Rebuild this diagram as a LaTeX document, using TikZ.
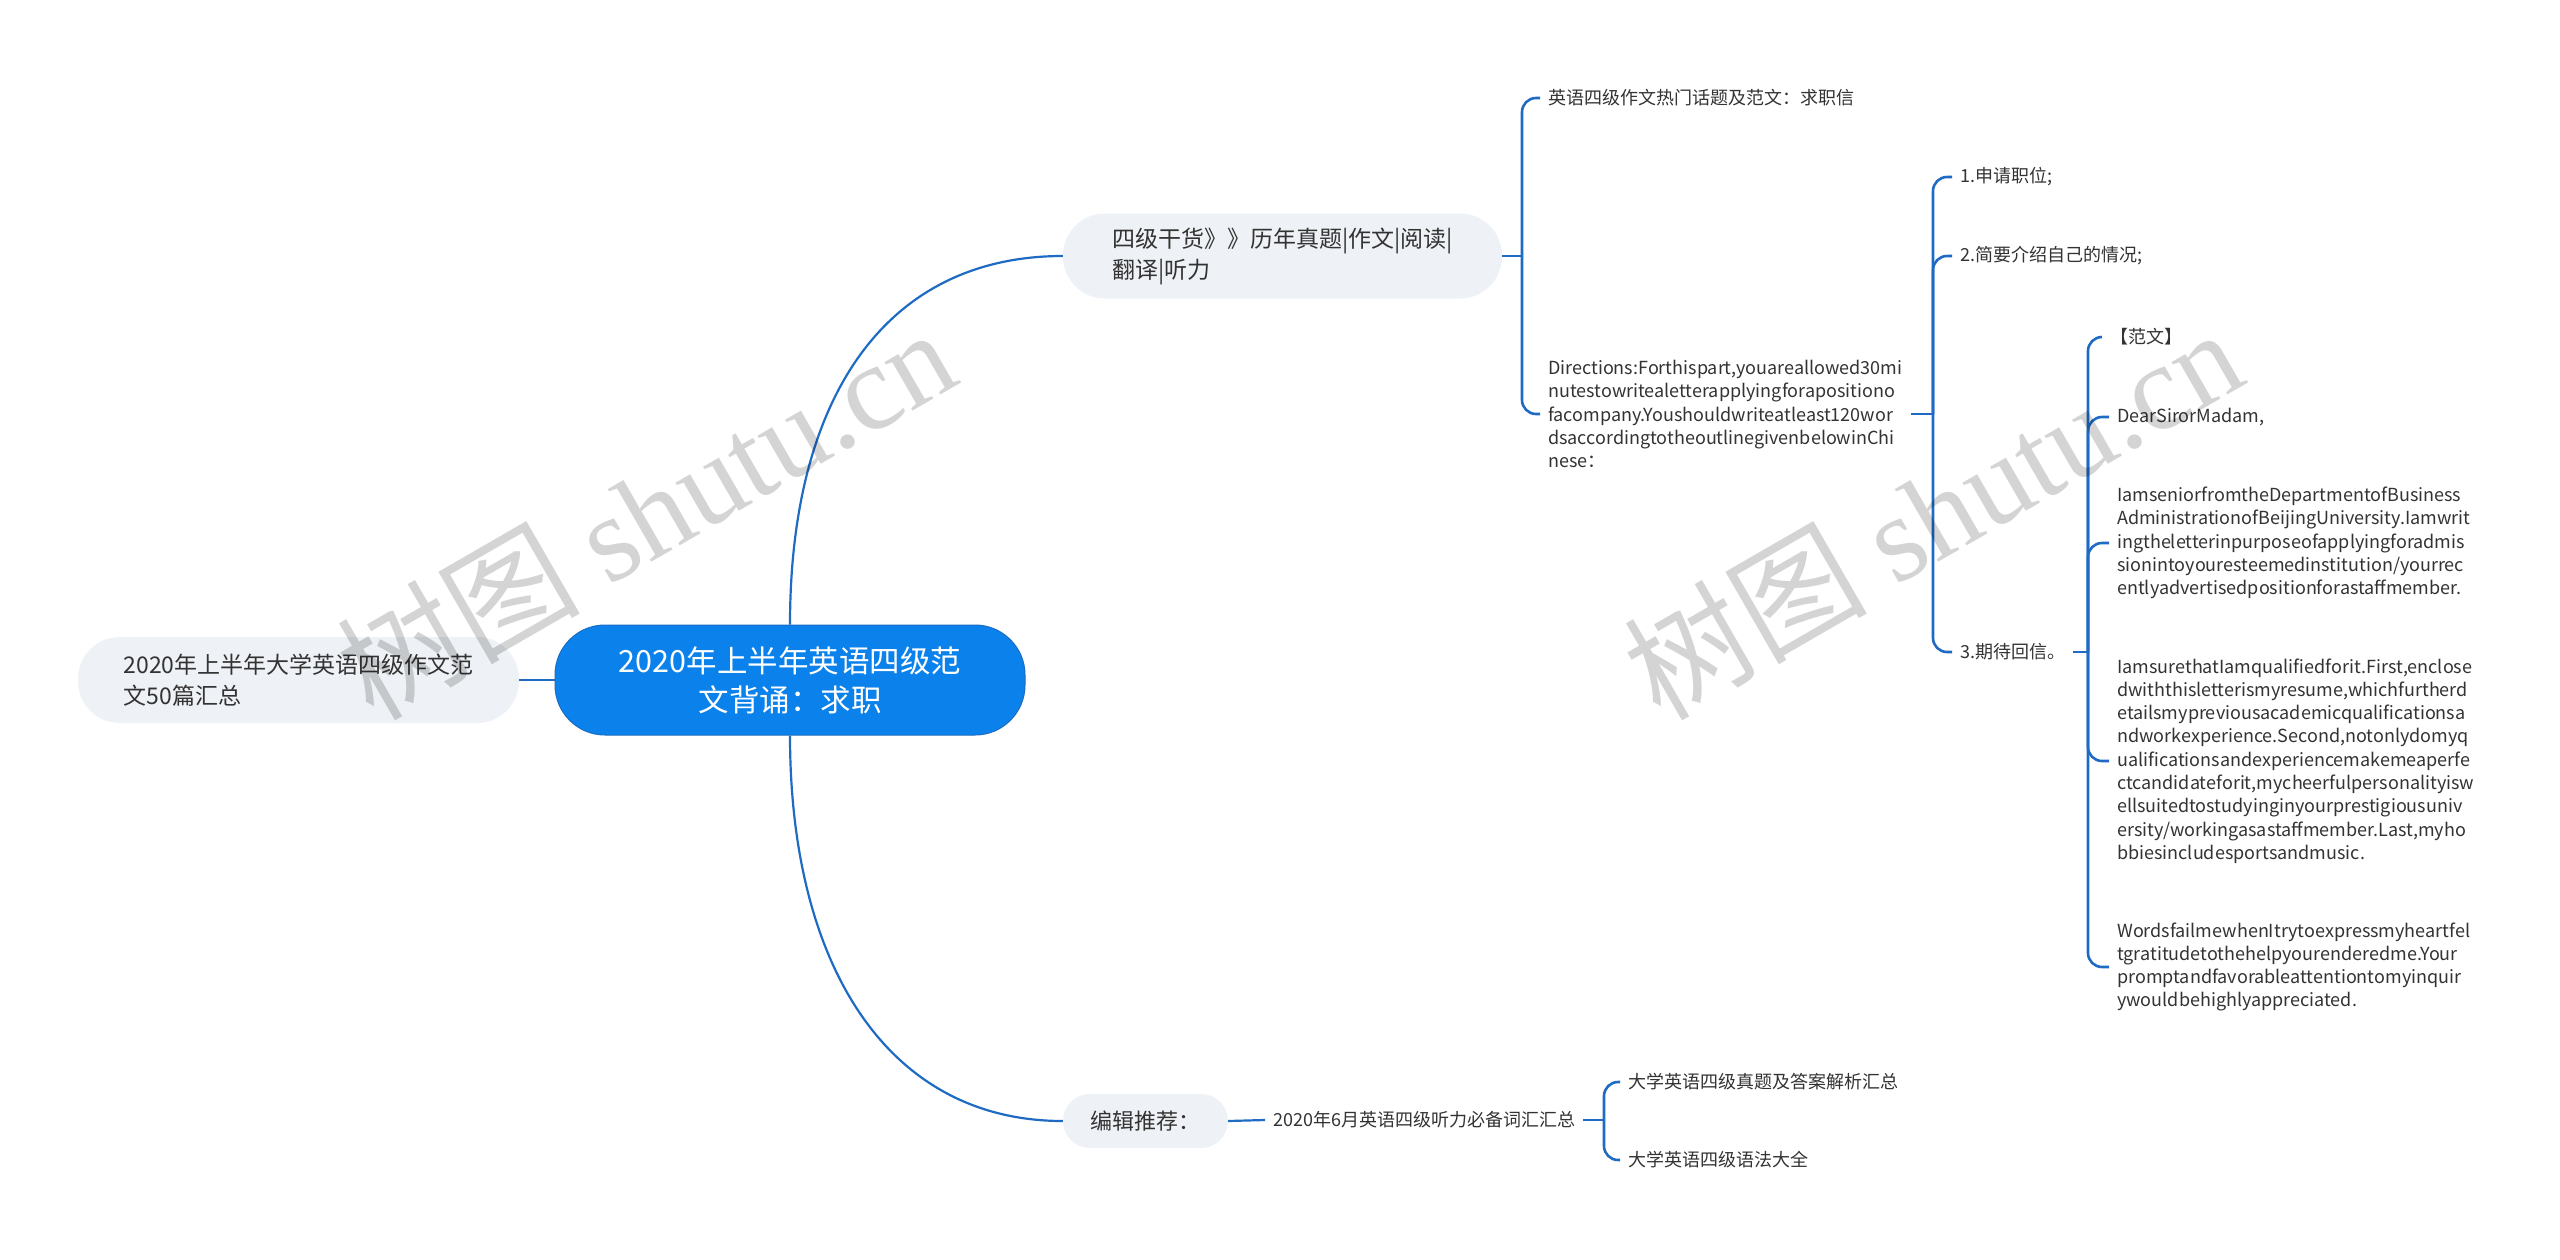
\documentclass[tikz,border=0pt]{standalone}
\usepackage{fontspec}
\setmainfont{Noto Sans CJK SC}
\newfontfamily\wmlatin{Liberation Serif}
\definecolor{lineblue}{HTML}{1F6BC4}
\definecolor{rootblue}{HTML}{0B82EB}
\definecolor{rootedge}{HTML}{1A6CC4}
\definecolor{subgray}{HTML}{EEF1F5}
\definecolor{txt}{HTML}{333333}
\begin{document}
\begin{tikzpicture}[x=1pt,y=-1pt,
 root/.style={fill=rootblue, draw=rootedge, line width=1pt, rounded corners=50pt, minimum width=470pt, minimum height=110pt, align=center, text=white, font=\fontsize{30.5}{39}\selectfont},
 pill/.style={fill=subgray, rounded corners=42pt, align=left, text=txt, font=\fontsize{23}{31}\selectfont},
 leaf/.style={anchor=west, inner xsep=8pt, inner ysep=0pt, align=left, text=txt, font=\fontsize{18}{23.3}\selectfont},
 link/.style={draw=lineblue, line width=2.2pt},
 brk/.style={draw=lineblue, line width=2.6pt, rounded corners=14pt},
 wmark/.style={text=black, text opacity=0.17, rotate=30, inner sep=0pt, font=\fontsize{122}{122}\selectfont}
]
\fill[white] (0,0) rectangle (2560,1259);
\useasboundingbox (0,0) rectangle (2560,1259);

% nodes
\node[root] (root) at (790,680) {2020年上半年英语四级范\\文背诵：求职};
\node[pill, minimum width=441pt, minimum height=86pt] (left) at (298.5,680) {2020年上半年大学英语四级作文范\\文50篇汇总};
\node[pill, minimum width=439pt, minimum height=85pt] (top) at (1282.5,256) {四级干货》》历年真题|作文|阅读|\\翻译|听力};
\node[pill, rounded corners=27pt, minimum width=165pt, minimum height=54pt, font=\fontsize{22}{28}\selectfont] (bj) at (1145.5,1121) {编辑推荐：};

\node[leaf] (hot) at (1540,98) {英语四级作文热门话题及范文：求职信};
\node[leaf] (dir) at (1540,414) {Directions:Forthispart,youareallowed30mi\\nutestowritealetterapplyingforapositiono\\facompany.Youshouldwriteatleast120wor\\dsaccordingtotheoutlinegivenbelowinChi\\nese：};
\node[leaf] (p1) at (1952,177) {1.申请职位;};
\node[leaf] (p2) at (1952,256) {2.简要介绍自己的情况;};
\node[leaf] (p3) at (1952,652) {3.期待回信。};
\node[leaf] (fw) at (2102,337) {【范文】};
\node[leaf] (dear) at (2109,417) {DearSirorMadam,};
\node[leaf] (para1) at (2109,543) {IamseniorfromtheDepartmentofBusiness\\AdministrationofBeijingUniversity.Iamwrit\\ingtheletterinpurposeofapplyingforadmis\\sionintoyouresteemedinstitution/yourrec\\entlyadvertisedpositionforastaffmember.};
\node[leaf] (para2) at (2109,761) {IamsurethatIamqualifiedforit.First,enclose\\dwiththisletterismyresume,whichfurtherd\\etailsmypreviousacademicqualificationsa\\ndworkexperience.Second,notonlydomyq\\ualificationsandexperiencemakemeaperfe\\ctcandidateforit,mycheerfulpersonalityisw\\ellsuitedtostudyinginyourprestigiousuniv\\ersity/workingasastaffmember.Last,myho\\bbiesincludesportsandmusic.};
\node[leaf] (para3) at (2109,967) {WordsfailmewhenItrytoexpressmyheartfel\\tgratitudetothehelpyourenderedme.Your\\promptandfavorableattentiontomyinquir\\ywouldbehighlyappreciated.};

\node[leaf] (cihui) at (1265,1120) {2020年6月英语四级听力必备词汇汇总};
\node[leaf] (zt) at (1620,1082) {大学英语四级真题及答案解析汇总};
\node[leaf] (yf) at (1620,1160) {大学英语四级语法大全};

% junctions
\coordinate (j1) at (1522,256);
\coordinate (j2) at (1933,414);
\coordinate (j3) at (2088,652);
\coordinate (j4) at (1604,1120);

% main connectors
\draw[link] (root.west) -- (left.east);
\draw[link] (root.north) .. controls +(0,-230) and +(-175,0) .. (top.west);
\draw[link] (root.south) .. controls +(0,230) and +(-175,0) .. (bj.west);
\draw[link] (bj.east) -- (cihui.west);

% brackets
\draw[brk] (top.east) -- (j1);
\draw[brk] (j1) |- (hot.west);
\draw[brk] (j1) |- (dir.west);

\draw[brk] (dir.east) -- (j2);
\draw[brk] (j2) |- (p1.west);
\draw[brk] (j2) |- (p2.west);
\draw[brk] (j2) |- (p3.west);

\draw[brk] (p3.east) -- (j3);
\draw[brk] (j3) |- (fw.west);
\draw[brk] (j3) |- (dear.west);
\draw[brk] (j3) |- (para1.west);
\draw[brk] (j3) |- (para2.west);
\draw[brk] (j3) |- (para3.west);

\draw[brk] (cihui.east) -- (j4);
\draw[brk] (j4) |- (zt.west);
\draw[brk] (j4) |- (yf.west);

% watermarks
\node[wmark] (wm1) at (645,512) {树图 {\wmlatin shutu.cn}};
\node[wmark] (wm2) at (1932,512) {树图 {\wmlatin shutu.cn}};
\end{tikzpicture}
\end{document}
